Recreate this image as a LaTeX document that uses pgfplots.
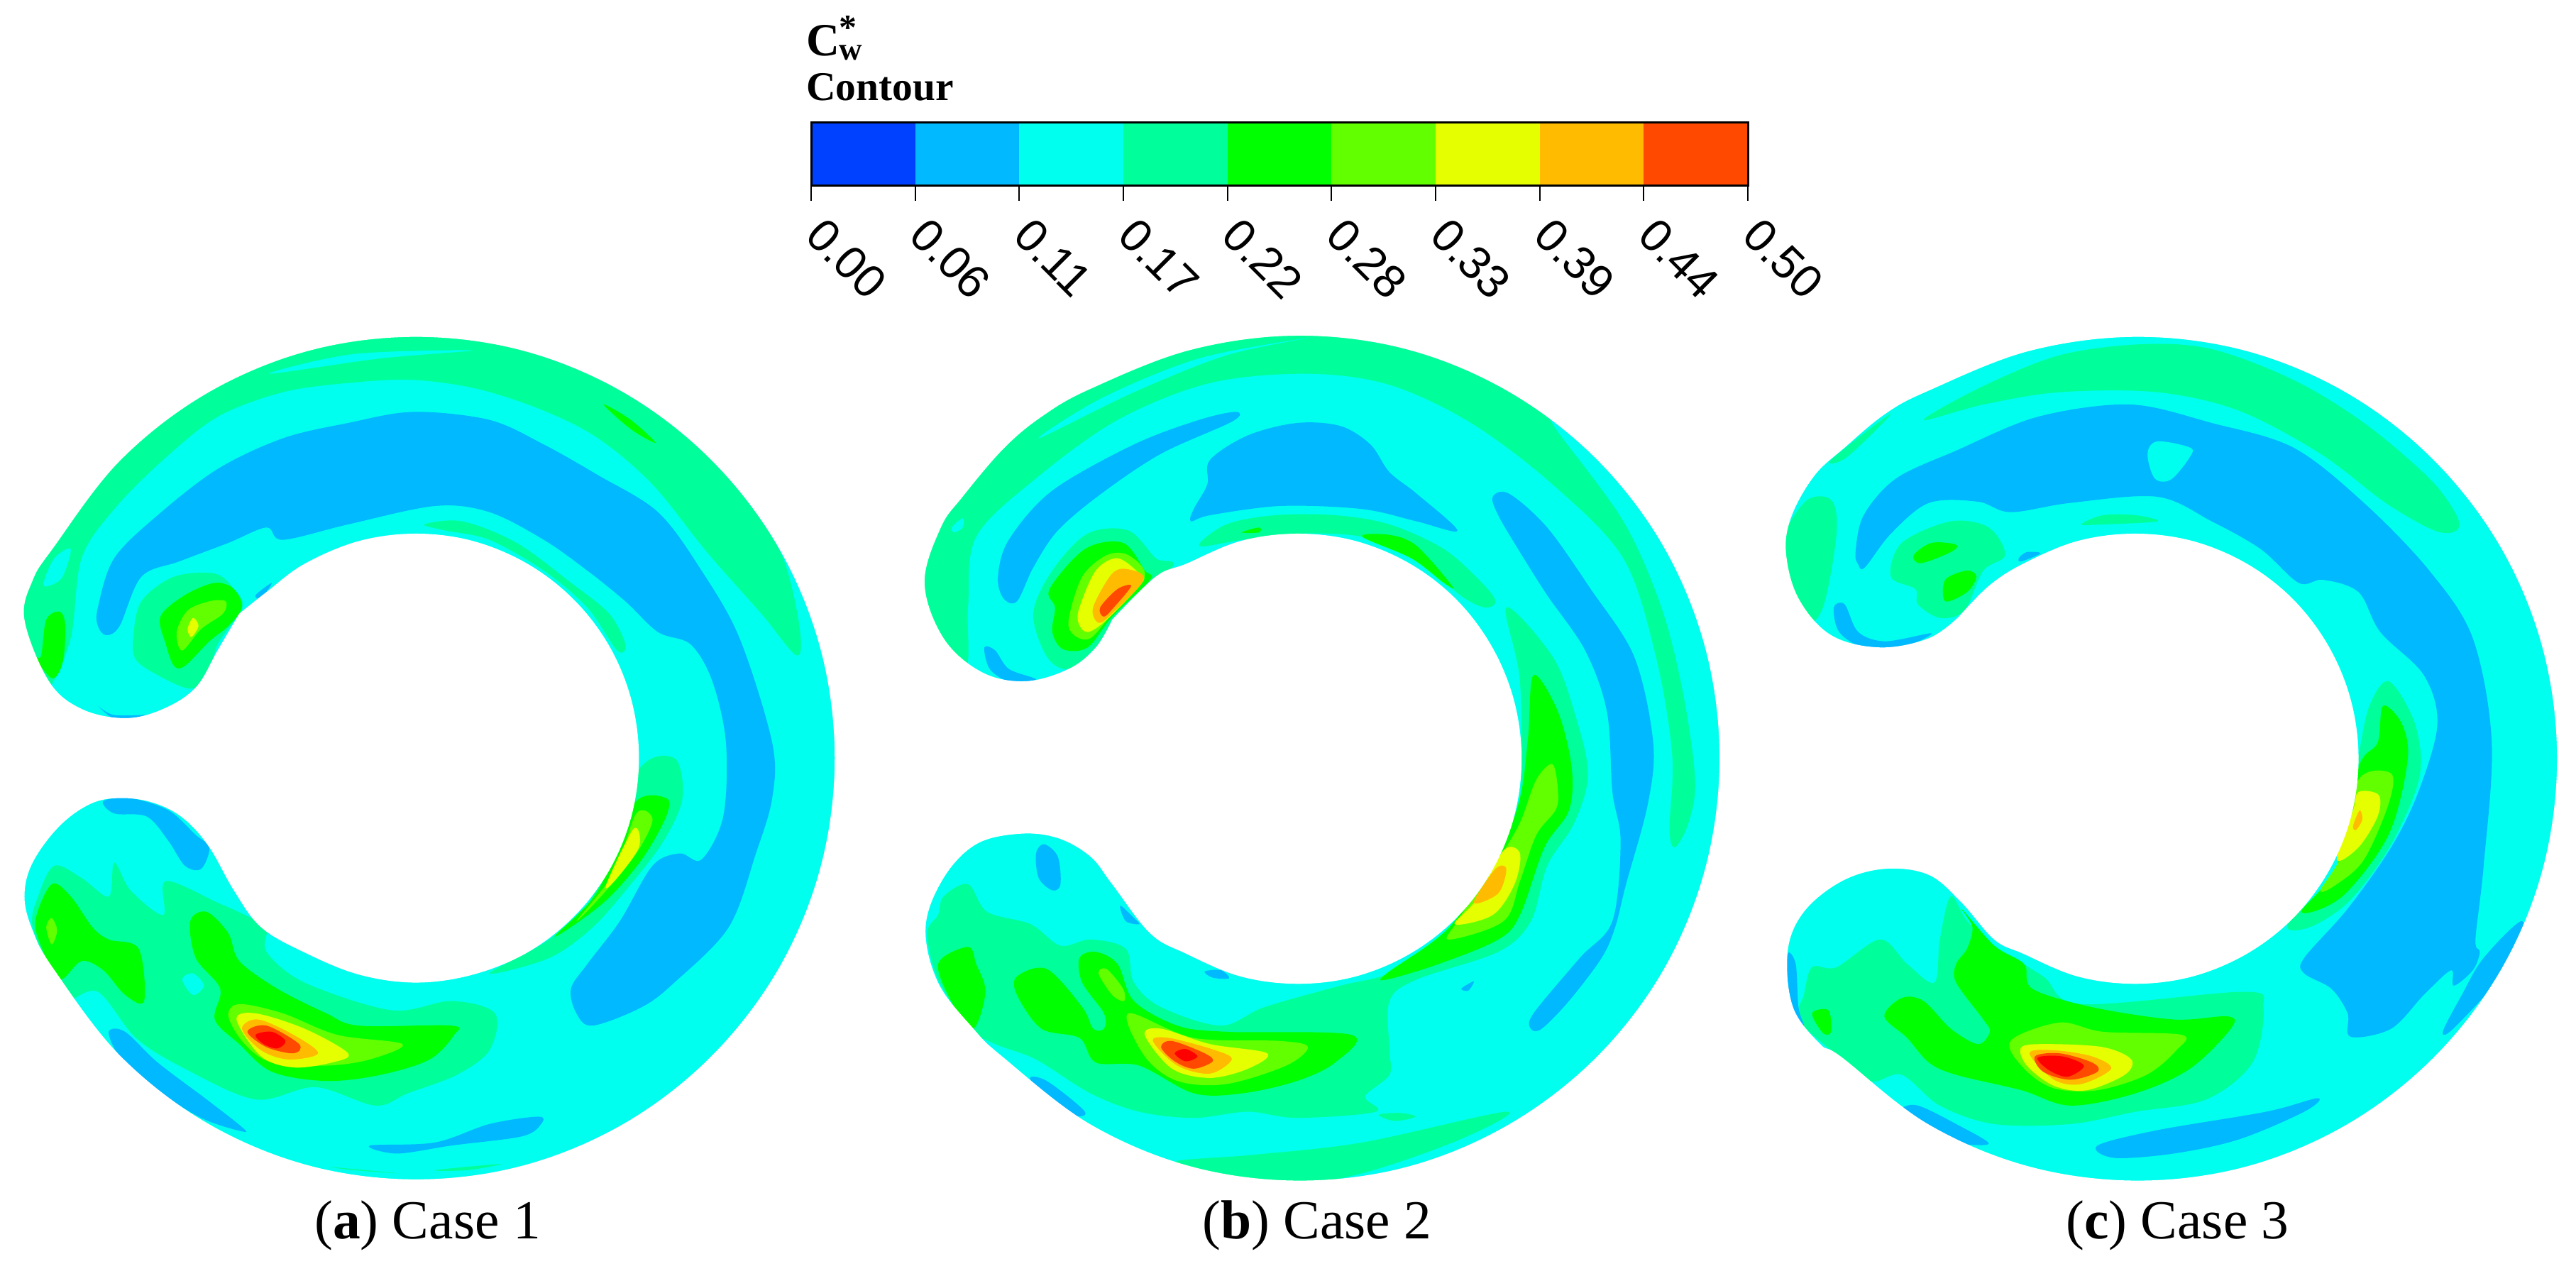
\documentclass[border=0pt]{standalone}
\usepackage{pgfplots}
\pgfplotsset{compat=1.18}
\usepackage{fontspec}
\setmainfont{Liberation Serif}
\newfontfamily\barfont{Liberation Sans}
\definecolor{cA}{HTML}{0040FF}
\definecolor{cB}{HTML}{00B9FF}
\definecolor{cC}{HTML}{00FFEE}
\definecolor{cD}{HTML}{00FF9A}
\definecolor{cE}{HTML}{00FF00}
\definecolor{cF}{HTML}{62FF00}
\definecolor{cG}{HTML}{E6FF00}
\definecolor{cH}{HTML}{FFBB00}
\definecolor{cI}{HTML}{FF4800}
\definecolor{cJ}{HTML}{FF0000}
\newcommand{\R}[2]{\addplot[smooth cycle,tension=0.55,fill=#1,draw=none,forget plot] coordinates {#2};}
\newcommand{\Base}{\addplot[fill=cC,draw=none,forget plot] coordinates {(20,20)(1562,20)(1562,1430)(20,1430)} --cycle;}
\newcommand{\Mask}[1]{\addplot[smooth,tension=0.6,fill=white,draw=none,even odd rule,forget plot,unbounded coords=jump] coordinates {(-300,-300)(1900,-300)(1900,1900)(-300,1900)(-300,-300)(nan,nan)#1};}
\pgfplotsset{panel/.style={hide axis,scale only axis,width=240pt,height=271.4pt,xmin=0,xmax=1566,ymin=0,ymax=1566,y dir=reverse,anchor=south west}}
\begin{document}
\begin{tikzpicture}[x=1pt,y=1pt]
\path[use as bounding box] (0,0) rectangle (726,359.4);
% ---------------- panel a
\begin{axis}[panel,at={(0pt,0pt)}]
\Base
\R{cD}{(90,610)(130,530)(150,400)(210,320)(300,240)(400,170)(520,130)(640,115)(760,110)(880,125)(1000,160)(1100,205)(1200,280)(1300,390)(1400,490)(1465,558)(1470,510)(1440,400)(1380,310)(1300,200)(1000,0)(765,0)(400,80)(100,300)(0,500)(50,600)}
\R{cC}{(80,440)(100,400)(130,385)(115,430)(90,445)}
\R{cC}{(495,100)(650,68)(870,62)(700,75)}
\R{cE}{(1110,150)(1160,175)(1205,212)(1160,190)}
\R{cE}{(75,560)(85,500)(110,487)(120,510)(115,570)(95,595)(60,555)}
\R{cB}{(180,480)(210,400)(290,330)(400,255)(520,205)(640,180)(760,162)(900,175)(1000,215)(1100,265)(1210,325)(1290,420)(1360,530)(1420,700)(1420,790)(1390,880)(1340,1000)(1240,1090)(1180,1130)(1090,1160)(1060,1140)(1050,1100)(1080,1060)(1140,990)(1200,900)(1250,880)(1290,890)(1330,820)(1335,700)(1310,600)(1270,540)(1210,520)(1150,470)(1080,420)(1000,370)(900,325)(800,315)(640,345)(520,370)(490,350)(420,375)(330,405)(260,430)(220,510)(195,525)(180,510)}
\R{cD}{(245,530)(260,470)(320,430)(395,425)(430,450)(445,480)(400,540)(385,590)(350,612)(290,590)(250,565)}
\R{cE}{(295,495)(340,460)(395,440)(430,450)(445,480)(420,510)(385,535)(340,575)(320,575)(305,540)}
\R{cF}{(325,520)(345,485)(385,470)(415,470)(410,490)(370,515)(335,550)}
\R{cG}{(345,515)(355,497)(365,510)(352,528)}
\R{cB}{(470,460)(500,440)(480,465)}
\R{cD}{(780,345)(850,340)(950,375)(1050,440)(1120,490)(1150,540)(1135,550)(1080,480)(1000,420)(900,370)(820,355)}
\R{cD}{(900,1075)(1010,1020)(1090,950)(1170,750)(1240,725)(1255,790)(1220,860)(1160,930)(1090,1000)(1010,1050)}
\R{cE}{(1020,1015)(1100,940)(1165,800)(1225,790)(1225,820)(1180,890)(1110,960)}
\R{cF}{(1060,990)(1130,910)(1170,815)(1200,825)(1170,880)(1110,945)}
\R{cG}{(1115,930)(1165,840)(1175,870)(1130,925)}
\R{cD}{(60,1000)(70,950)(100,900)(150,920)(200,950)(210,895)(240,940)(300,980)(305,925)(400,960)(450,980)(490,1000)(490,1040)(560,1090)(720,1135)(830,1120)(910,1140)(900,1200)(840,1240)(750,1270)(690,1290)(580,1260)(470,1280)(340,1230)(250,1180)(180,1105)(120,1120)(100,1080)}
\R{cC}{(335,1085)(355,1075)(375,1095)(355,1110)}
\R{cE}{(65,990)(95,930)(130,950)(170,1000)(200,1020)(255,1035)(265,1120)(230,1110)(190,1070)(150,1055)(110,1085)(80,1040)}
\R{cF}{(85,1000)(95,985)(105,1005)(95,1028)}
\R{cE}{(350,990)(380,975)(420,1010)(440,1055)(510,1100)(600,1140)(660,1160)(830,1160)(835,1175)(790,1215)(700,1240)(600,1250)(500,1235)(440,1190)(395,1150)(405,1100)(360,1050)}
\R{cF}{(420,1145)(440,1125)(520,1140)(620,1175)(740,1190)(680,1215)(600,1225)(500,1220)(450,1190)}
\R{cG}{(435,1150)(470,1140)(560,1165)(640,1205)(610,1220)(540,1228)(480,1210)}
\R{cH}{(445,1165)(475,1150)(540,1175)(585,1205)(530,1215)(480,1200)}
\R{cI}{(455,1170)(490,1160)(550,1190)(540,1205)(490,1195)}
\R{cJ}{(470,1175)(500,1170)(525,1185)(510,1197)(485,1190)}
\R{cB}{(190,795)(240,790)(310,810)(360,850)(385,870)(370,905)(340,900)(310,860)(270,820)(210,815)}
\R{cB}{(200,1170)(230,1170)(290,1220)(380,1280)(445,1325)(445,1332)(370,1310)(280,1260)(220,1210)}
\R{cB}{(680,1355)(800,1350)(900,1320)(990,1308)(995,1320)(960,1340)(830,1355)(730,1368)}
\R{cD}{(610,1390)(730,1400)(650,1395)}
\R{cD}{(800,1395)(920,1385)(860,1395)}
\R{cB}{(180,640)(210,655)(280,655)(220,665)}
\Mask{(440,490)(400,550)(360,610)(300,645)(230,660)(150,645)(90,600)(45,500)(60,436)(98,383)(221,241)(380,132)(566,63)(765,40)(964,63)(1150,132)(1309,241)(1432,383)(1509,548)(1535,725)(1509,902)(1432,1067)(1309,1209)(1150,1318)(964,1387)(765,1410)(566,1387)(380,1318)(221,1209)(98,1067)(60,1005)(45,950)(60,895)(110,835)(170,798)(230,790)(290,800)(340,825)(385,870)(430,940)(480,1000)(560,1041)(660,1077)(765,1090)(870,1077)(970,1041)(1055,983)(1120,908)(1161,820)(1175,725)(1161,630)(1120,542)(1055,467)(970,409)(870,372)(765,360)(660,372)(560,409)(490,455)(440,490)}
\end{axis}
% ---------------- panel b
\begin{axis}[panel,at={(246pt,0pt)}]
\Base
\R{cD}{(170,580)(175,480)(190,365)(300,270)(450,175)(620,115)(800,100)(950,118)(1100,180)(1250,280)(1380,400)(1440,560)(1470,720)(1465,840)(1475,870)(1500,830)(1512,760)(1490,620)(1450,480)(1380,340)(1260,195)(1200,120)(1000,0)(785,0)(400,70)(100,330)(50,450)(100,560)}
\R{cC}{(305,205)(420,140)(600,75)(800,42)(650,70)(480,130)}
\R{cC}{(145,350)(165,335)(165,350)(150,358)}
\R{cB}{(230,430)(250,370)(330,290)(480,215)(600,175)(668,162)(660,178)(530,230)(420,295)(340,355)(295,415)(265,470)(240,465)}
\R{cB}{(590,320)(615,280)(620,240)(690,200)(780,180)(860,185)(915,215)(950,260)(1000,295)(1075,355)(1000,340)(900,320)(750,315)(620,330)(585,340)}
\R{cB}{(1140,300)(1170,295)(1240,350)(1320,450)(1400,560)(1435,700)(1425,800)(1385,930)(1365,1000)(1340,1050)(1280,1120)(1230,1165)(1210,1165)(1215,1140)(1300,1050)(1360,990)(1375,860)(1360,780)(1350,650)(1310,550)(1240,460)(1190,390)(1150,330)}
\R{cB}{(205,545)(225,550)(250,580)(300,597)(250,600)(215,580)}
\R{cB}{(300,880)(315,865)(340,885)(345,930)(330,940)(305,920)}
\R{cB}{(455,965)(480,985)(490,995)(465,990)}
\R{cB}{(610,1072)(640,1070)(655,1083)(625,1082)}
\R{cB}{(1082,1100)(1105,1088)(1095,1103)}
\R{cB}{(290,1248)(320,1250)(390,1300)(360,1303)}
\R{cD}{(295,490)(330,420)(395,360)(470,355)(520,400)(550,415)(440,510)(410,545)(360,580)(320,560)}
\R{cE}{(325,450)(390,385)(460,375)(500,420)(510,435)(440,495)(395,545)(350,548)(330,520)(335,480)}
\R{cF}{(360,500)(385,430)(430,395)(470,395)(500,430)(440,490)(400,530)(370,525)}
\R{cG}{(380,480)(410,420)(450,400)(490,425)(495,440)(430,500)(395,520)(378,505)}
\R{cH}{(405,480)(440,425)(470,418)(498,435)(440,490)(415,505)}
\R{cI}{(418,480)(450,450)(475,445)(445,478)(425,495)}
\R{cD}{(600,380)(650,345)(740,330)(850,330)(950,345)(1050,385)(1120,440)(1145,470)(1125,480)(1080,460)(1000,400)(900,365)(780,360)(680,370)}
\R{cE}{(678,358)(710,350)(710,358)}
\R{cE}{(900,365)(950,362)(1000,380)(1065,445)(1050,440)(990,400)}
\R{cD}{(1165,480)(1250,560)(1290,650)(1315,750)(1290,830)(1240,900)(1210,990)(1150,1040)(1000,1085)(950,1120)(950,1200)(950,1240)(905,1275)(925,1300)(780,1310)(690,1300)(590,1310)(490,1300)(400,1270)(300,1215)(225,1190)(180,1165)(120,1085)(100,1010)(120,980)(130,950)(175,930)(210,975)(290,995)(345,1030)(400,1020)(465,1035)(480,1090)(530,1130)(640,1160)(720,1130)(860,1095)(950,1075)(1060,1020)(1160,860)(1190,790)(1190,600)}
\R{cE}{(1215,590)(1260,650)(1285,740)(1280,810)(1235,870)(1190,980)(1150,1020)(1040,1060)(945,1085)(945,1075)(1060,1000)(1150,880)(1190,790)(1205,690)}
\R{cF}{(1220,760)(1250,735)(1260,780)(1255,810)(1220,850)(1190,925)(1160,990)(1060,1020)(1075,990)(1150,890)(1190,830)}
\R{cG}{(1070,995)(1110,955)(1160,875)(1190,880)(1180,930)(1140,980)}
\R{cH}{(1105,960)(1145,905)(1165,905)(1150,945)}
\R{cE}{(120,1060)(175,1032)(190,1060)(207,1105)(185,1165)(150,1130)}
\R{cE}{(265,1080)(320,1068)(385,1130)(405,1165)(425,1165)(425,1140)(385,1090)(380,1050)(410,1040)(450,1060)(480,1120)(560,1160)(650,1170)(880,1175)(850,1220)(780,1250)(680,1270)(590,1270)(490,1225)(410,1220)(380,1180)(310,1165)(265,1110)}
\R{cF}{(415,1075)(430,1068)(460,1100)(462,1120)(440,1110)}
\R{cF}{(470,1140)(590,1180)(750,1185)(800,1195)(760,1225)(650,1255)(560,1250)(500,1210)}
\R{cG}{(500,1175)(530,1165)(620,1190)(725,1205)(690,1230)(620,1245)(550,1230)}
\R{cH}{(515,1185)(545,1180)(630,1200)(660,1215)(620,1238)(560,1225)}
\R{cI}{(530,1195)(550,1185)(610,1205)(625,1218)(590,1230)(555,1218)}
\R{cJ}{(555,1205)(575,1198)(597,1210)(575,1218)}
\R{cD}{(930,1305)(970,1302)(998,1308)(960,1315)}
\R{cD}{(560,1380)(700,1370)(900,1350)(1165,1300)(1080,1345)(900,1400)(750,1420)(600,1395)}
\Mask{(440,500)(410,545)(360,580)(280,600)(200,585)(130,530)(95,440)(125,350)(165,300)(240,222)(310,170)(399,125)(585,61)(785,38)(985,61)(1171,130)(1331,239)(1454,381)(1531,547)(1557,725)(1531,903)(1454,1069)(1331,1211)(1171,1320)(985,1389)(785,1412)(585,1389)(399,1320)(239,1211)(185,1165)(120,1090)(97,1000)(130,920)(190,865)(270,848)(340,855)(400,885)(440,930)(510,1010)(576,1043)(676,1080)(782,1092)(888,1080)(988,1043)(1073,985)(1138,909)(1179,821)(1193,726)(1179,631)(1138,543)(1073,467)(988,409)(888,372)(782,360)(676,372)(576,409)(520,430)(440,500)}
\end{axis}
% ---------------- panel c
\begin{axis}[panel,at={(485.4pt,0pt)}]
\Base
\R{cD}{(150,310)(200,305)(210,360)(185,480)(150,500)(100,400)}
\R{cD}{(200,240)(310,165)(230,235)}
\R{cD}{(370,175)(480,120)(620,70)(770,52)(900,60)(1050,110)(1180,180)(1300,270)(1350,330)(1350,355)(1310,355)(1220,310)(1100,230)(950,160)(800,130)(620,130)(480,150)}
\R{cB}{(245,390)(260,330)(320,270)(430,225)(580,170)(750,150)(900,180)(1050,220)(1180,310)(1300,420)(1380,530)(1415,700)(1400,900)(1385,1020)(1393,1040)(1380,1070)(1345,1095)(1340,1070)(1290,1110)(1230,1165)(1155,1178)(1150,1140)(1120,1100)(1070,1075)(1070,1050)(1150,970)(1230,870)(1280,780)(1315,670)(1290,590)(1210,520)(1170,455)(1105,435)(1060,440)(990,385)(900,340)(800,300)(640,310)(530,325)(470,308)(380,310)(310,360)(262,415)(250,410)}
\R{cC}{(782,230)(800,210)(860,220)(860,235)(825,272)(795,270)}
\R{cD}{(310,430)(330,375)(420,340)(490,350)(520,395)(480,420)(445,485)(400,497)(360,475)(355,450)}
\R{cE}{(352,395)(385,375)(430,378)(420,390)(365,408)}
\R{cE}{(410,435)(450,420)(467,430)(450,455)(410,470)}
\R{cD}{(660,345)(700,330)(760,330)(800,340)(700,345)}
\R{cB}{(545,400)(560,390)(585,392)(550,405)}
\R{cB}{(205,480)(225,475)(250,520)(300,535)(385,522)(330,545)(260,545)(215,520)}
\R{cD}{(1040,995)(1130,900)(1170,720)(1190,640)(1225,600)(1270,660)(1285,730)(1270,790)(1220,880)(1150,960)(1080,1000)}
\R{cE}{(1065,975)(1130,900)(1170,740)(1205,700)(1215,640)(1250,670)(1260,730)(1225,850)(1140,950)}
\R{cF}{(1100,940)(1140,880)(1170,760)(1230,750)(1225,800)(1180,890)(1130,930)}
\R{cG}{(1130,890)(1160,810)(1170,780)(1207,785)(1205,820)(1170,870)}
\R{cH}{(1160,835)(1172,810)(1177,825)(1165,842)}
\R{cD}{(150,1110)(165,1065)(210,1065)(290,1020)(340,1060)(390,1090)(400,1020)(420,950)(450,990)(500,1030)(590,1080)(660,1125)(960,1105)(995,1130)(975,1220)(890,1280)(760,1300)(640,1320)(500,1320)(400,1290)(330,1240)(270,1250)(200,1200)(140,1150)}
\R{cE}{(430,1060)(450,1035)(460,1000)(440,970)(500,1030)(555,1060)(570,1100)(680,1130)(830,1150)(930,1145)(935,1165)(860,1230)(760,1270)(640,1290)(550,1265)(430,1240)(380,1220)(340,1180)(298,1145)(330,1115)(370,1120)(420,1165)(470,1190)(492,1170)(480,1150)(430,1090)}
\R{cE}{(165,1140)(195,1135)(200,1170)(185,1172)}
\R{cF}{(530,1185)(620,1155)(700,1170)(845,1175)(835,1200)(780,1240)(690,1265)(610,1262)(555,1230)}
\R{cG}{(550,1195)(600,1190)(700,1195)(752,1215)(740,1240)(670,1265)(610,1258)(560,1225)}
\R{cH}{(565,1205)(610,1200)(680,1210)(715,1230)(660,1255)(610,1248)}
\R{cI}{(575,1210)(620,1205)(680,1220)(690,1235)(640,1248)(590,1235)}
\R{cJ}{(580,1212)(625,1210)(665,1225)(635,1243)(600,1232)}
\R{cB}{(330,1295)(360,1290)(430,1320)(490,1352)(420,1348)(340,1310)}
\R{cB}{(690,1355)(800,1330)(1000,1300)(1095,1278)(1070,1300)(950,1345)(830,1368)(720,1375)}
\R{cB}{(120,1045)(135,1060)(140,1130)(150,1160)(125,1130)}
\R{cB}{(1325,1170)(1360,1110)(1400,1050)(1470,990)(1460,1050)(1350,1160)}
\Mask{(435,495)(380,530)(290,545)(200,525)(140,465)(117,390)(128,330)(170,265)(225,220)(300,165)(378,128)(564,63)(764,40)(964,63)(1150,132)(1309,241)(1432,383)(1509,548)(1535,726)(1509,904)(1432,1069)(1309,1211)(1150,1320)(964,1389)(764,1412)(564,1389)(378,1320)(219,1211)(180,1190)(130,1130)(120,1040)(150,975)(220,925)(300,905)(380,915)(440,960)(500,1020)(553,1043)(653,1080)(759,1092)(865,1080)(965,1043)(1050,985)(1115,909)(1156,821)(1170,726)(1156,631)(1115,543)(1050,467)(965,409)(865,372)(759,360)(653,372)(553,409)(490,445)(435,495)}
\end{axis}
% ---------------- colour bar
\begin{axis}[scale only axis,width=264pt,height=18pt,at={(228.6pt,307pt)},anchor=south west,
 xmin=0,xmax=0.5,ymin=0,ymax=1,axis on top,ytick=\empty,
 xtick={0,0.0556,0.1111,0.1667,0.2222,0.2778,0.3333,0.3889,0.4444,0.5},
 xticklabels={0.00,0.06,0.11,0.17,0.22,0.28,0.33,0.39,0.44,0.50},
 tick align=outside,major tick length=4.2pt,xtick pos=bottom,
 tick style={black,line width=0.4pt},axis line style={black,line width=0.6pt},
 x tick label style={rotate=-45,anchor=north west,font=\barfont\fontsize{13}{14}\selectfont,inner sep=0pt,xshift=5.7pt,yshift=0.3pt}]
\addplot[fill=cA,draw=none] coordinates {(0,0)(0.0556,0)(0.0556,1)(0,1)} --cycle;
\addplot[fill=cB,draw=none] coordinates {(0.0556,0)(0.1111,0)(0.1111,1)(0.0556,1)} --cycle;
\addplot[fill=cC,draw=none] coordinates {(0.1111,0)(0.1667,0)(0.1667,1)(0.1111,1)} --cycle;
\addplot[fill=cD,draw=none] coordinates {(0.1667,0)(0.2222,0)(0.2222,1)(0.1667,1)} --cycle;
\addplot[fill=cE,draw=none] coordinates {(0.2222,0)(0.2778,0)(0.2778,1)(0.2222,1)} --cycle;
\addplot[fill=cF,draw=none] coordinates {(0.2778,0)(0.3333,0)(0.3333,1)(0.2778,1)} --cycle;
\addplot[fill=cG,draw=none] coordinates {(0.3333,0)(0.3889,0)(0.3889,1)(0.3333,1)} --cycle;
\addplot[fill=cH,draw=none] coordinates {(0.3889,0)(0.4444,0)(0.4444,1)(0.3889,1)} --cycle;
\addplot[fill=cI,draw=none] coordinates {(0.4444,0)(0.5,0)(0.5,1)(0.4444,1)} --cycle;
\end{axis}
\node[anchor=base west,inner sep=0pt,font=\bfseries\fontsize{13}{14}\selectfont] at (227,343.6) {C\rlap{\raisebox{4.6pt}{\fontsize{10}{10}\selectfont *}}\raisebox{-1.2pt}{\fontsize{9}{9}\selectfont w}};
\node[anchor=base west,inner sep=0pt,font=\bfseries\fontsize{11.5}{12}\selectfont] at (227,331) {Contour};
\node[anchor=base,inner sep=0pt,font=\fontsize{15.5}{16}\selectfont] at (120.5,10.4) {(\textbf{a}) Case 1};
\node[anchor=base,inner sep=0pt,font=\fontsize{15.5}{16}\selectfont] at (371.2,10.4) {(\textbf{b}) Case 2};
\node[anchor=base,inner sep=0pt,font=\fontsize{15.5}{16}\selectfont] at (613.7,10.4) {(\textbf{c}) Case 3};
\end{tikzpicture}
\end{document}
